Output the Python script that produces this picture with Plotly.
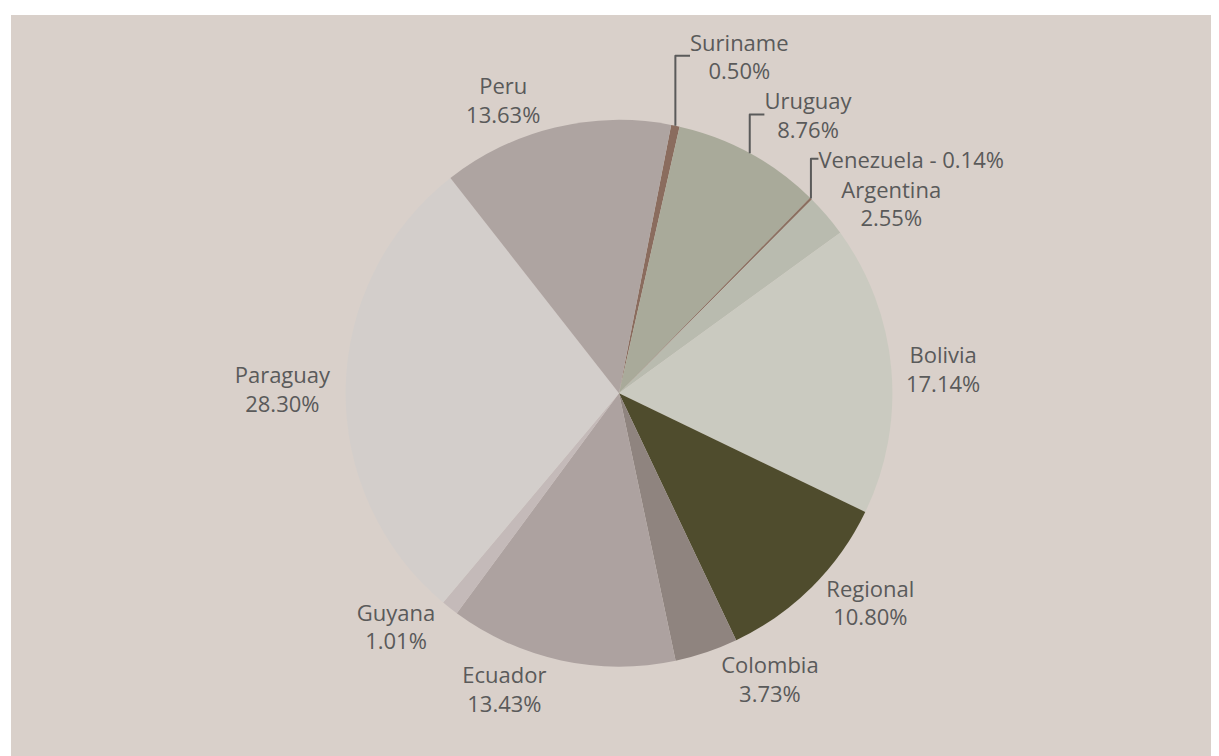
import plotly.graph_objects as go

labels = ["Suriname", "Uruguay", "Venezuela", "Argentina", "Bolivia", "Regional",
          "Colombia", "Ecuador", "Guyana", "Paraguay", "Peru"]
values = [0.50, 8.76, 0.14, 2.55, 17.14, 10.80, 3.73, 13.43, 1.01, 28.30, 13.63]
colors = ["#8a6c5e", "#a9aa9a", "#8a6f60", "#b9bbaf", "#cacac0", "#4f4c2d",
          "#8f847f", "#ada2a0", "#c4bab9", "#d3cecb", "#aea4a1"]

texts = [f"{l} - {v:.2f}%" if l == "Venezuela" else f"{l}<br>{v:.2f}%"
         for l, v in zip(labels, values)]

fig = go.Figure(go.Pie(
    labels=labels,
    values=values,
    text=texts,
    textinfo="text",
    textposition="outside",
    sort=False,
    direction="clockwise",
    rotation=11,
    marker=dict(colors=colors, line=dict(width=0)),
    outsidetextfont=dict(family="Open Sans", size=22, color="#5a5a5a"),
    domain=dict(x=[0.2, 0.8], y=[0.13, 0.86]),
    showlegend=False,
    hoverinfo="label+value",
))

# white strips at the top and left edges of the picture
fig.add_shape(type="rect", xref="paper", yref="paper", x0=-0.1, x1=0, y0=-0.1, y1=1.2,
              fillcolor="white", line=dict(width=0), layer="below")
fig.add_shape(type="rect", xref="paper", yref="paper", x0=-0.1, x1=1.1, y0=1, y1=1.2,
              fillcolor="white", line=dict(width=0), layer="below")

fig.update_layout(
    width=1219, height=756,
    margin=dict(l=3, r=0, t=7, b=0, autoexpand=False),
    paper_bgcolor="#d9d0ca",
    showlegend=False,
)

fig.write_html("out.html")
